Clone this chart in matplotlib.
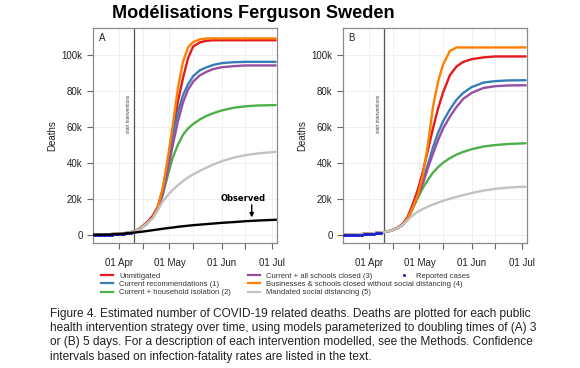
import matplotlib
matplotlib.use("Agg")
import matplotlib.pyplot as plt
from matplotlib.lines import Line2D
from matplotlib.ticker import FuncFormatter

plt.rcParams['font.family'] = ['Liberation Sans', 'DejaVu Sans']

# days counted from 01 Apr; deaths in thousands
days = [-15, -10, -5, 0, 5, 9, 13, 17, 20, 23, 26, 29, 32, 35, 38, 41, 44, 48, 52, 56, 61, 68, 75, 83, 93]
start_day = 9

pre_a = [0, 0.1, 0.3, 0.6, 1.0, 1.8]
a_unmitigated = pre_a + [4.0, 7.2, 10.5, 15.5, 25, 39, 56, 74, 87, 98, 104.5, 106.8, 107.7, 108, 108, 108, 108, 108, 108]
a_current = pre_a + [3.5, 6.5, 9.5, 14.5, 25, 40, 56, 68, 77.5, 83.5, 88, 91.3, 93, 94.3, 95.3, 95.8, 96, 96, 96]
a_household = pre_a + [3.5, 6.5, 9.5, 14, 22, 33, 43, 50, 55.5, 59, 61.5, 64, 66, 67.5, 69, 70.5, 71.3, 71.8, 72]
a_schools = pre_a + [3.5, 6.5, 9.5, 14, 23, 36, 50, 63, 73.5, 80.5, 85, 88.5, 90.5, 92, 93, 93.6, 94, 94, 94]
a_business = pre_a + [3.5, 6.5, 9.5, 14.8, 26, 42.6, 61, 81.5, 96, 104, 107, 108.5, 109, 109, 109, 109, 109, 109, 109]
a_distancing = pre_a + [3.5, 6.5, 9, 13.5, 18.5, 22, 25, 27.5, 29.8, 31.8, 33.5, 35.5, 37.3, 39, 40.8, 42.8, 44.2, 45.2, 46]
observed = [0, 0.05, 0.15, 0.4, 0.8, 1.2, 1.6, 2.1, 2.5, 2.9, 3.3, 3.7, 4.0, 4.4, 4.7, 5.0, 5.3, 5.6, 5.9, 6.2, 6.6, 7.0, 7.5, 7.9, 8.3]

pre_b = [0, 0.1, 0.3, 0.6, 1.0, 1.5]
b_unmitigated = pre_b + [2.3, 4.0, 6.0, 10, 17, 25, 35, 47, 59, 70, 79, 88.5, 93.5, 96, 97.5, 98.5, 99, 99, 99]
b_current = pre_b + [2.2, 3.7, 5.5, 9, 15, 22, 30, 39, 48.5, 56.5, 63, 69.5, 75, 78.8, 82, 84.5, 85.3, 85.7, 85.8]
b_household = pre_b + [2.2, 3.7, 5.5, 9, 14.5, 20.5, 26, 30.5, 34.5, 37.5, 40, 42.5, 44.5, 46, 47.5, 49, 49.8, 50.4, 50.8]
b_schools = pre_b + [2.2, 3.7, 5.5, 9, 15, 21.5, 28.5, 37, 45, 52.5, 59, 65.5, 71, 75.5, 78.8, 81.5, 82.5, 82.9, 83]
b_business = pre_b + [2.2, 3.7, 5.5, 9, 15, 22, 33, 50, 71, 85, 94.5, 102, 104, 104, 104, 104, 104, 104, 104]
b_distancing = pre_b + [2.2, 3.7, 5.5, 8, 10.8, 12.8, 14.3, 15.6, 16.8, 17.8, 18.8, 20, 21, 22, 23.2, 24.5, 25.5, 26.2, 26.7]

reported_days = list(range(-15, 8))
reported = [0.0, 0.0, 0.0, 0.0, 0.0, 0.01, 0.01, 0.02, 0.03, 0.05, 0.07, 0.1, 0.15, 0.2,
            0.25, 0.3, 0.4, 0.5, 0.6, 0.7, 0.8, 0.9, 1.0]

scenarios = ["Unmitigated", "Current recommendations (1)", "Current + household isolation (2)",
             "Current + all schools closed (3)", "Businesses & schools closed without social distancing (4)",
             "Mandated social distancing (5)"]
colors = ["#E41A1C", "#377EB8", "#4DAF4A", "#984EA3", "#FF7F00", "#C2C2C2"]

tick_days = [0, 14, 30, 44, 61, 75, 91]
tick_labels = ["01 Apr", "", "01 May", "", "01 Jun", "", "01 Jul"]
ytick_vals = [0, 20, 40, 60, 80, 100]

fig = plt.figure(figsize=(5.8, 3.68), dpi=100)
fig.patch.set_facecolor("white")

ax_a = fig.add_axes([93 / 580, 1 - 243 / 368, 184 / 580, 215 / 368])
ax_b = fig.add_axes([343 / 580, 1 - 243 / 368, 184 / 580, 215 / 368])

panels = [
    (ax_a, "A", [a_unmitigated, a_current, a_household, a_schools, a_business, a_distancing]),
    (ax_b, "B", [b_unmitigated, b_current, b_household, b_schools, b_business, b_distancing]),
]

for ax, letter, series in panels:
    ax.set_xlim(-15.4, 93.8)
    ax.set_ylim(-4.6, 114.8)
    ax.set_xticks(tick_days)
    ax.set_xticklabels(tick_labels)
    ax.set_yticks(ytick_vals)
    ax.yaxis.set_major_formatter(FuncFormatter(lambda v, p: "0" if v == 0 else f"{int(v)}k"))
    ax.grid(True, color="#eeeeee", lw=0.6)
    ax.set_axisbelow(True)
    for s in ax.spines.values():
        s.set_color("#8a8a8a")
        s.set_linewidth(0.9)
    ax.tick_params(axis="both", length=4, width=0.8, color="#666666", labelsize=7, labelcolor="#222222")
    ax.tick_params(axis="x", pad=7)
    ax.tick_params(axis="y", pad=3.5)
    ax.set_ylabel("Deaths", fontsize=7, color="#222222")
    ax.yaxis.set_label_coords(-0.196, 0.5)

    ax.axvline(start_day, color="#555555", lw=0.9, zorder=1)
    ax.text(start_day - 3.3, 67, "start interventions", rotation=90, fontsize=3.4,
            color="#444444", ha="center", va="center")
    ax.text(0.03, 0.975, letter, transform=ax.transAxes, fontsize=7, ha="left", va="top", color="#222222")

    for vals, c in zip(series, colors):
        ax.plot(days, vals, color=c, lw=1.7, solid_capstyle="round", zorder=3)
    ax.plot(reported_days, reported, "o", color="#1f1fcc", ms=2.2, mew=0, zorder=4)

ax_a.plot(days, observed, color="black", lw=1.7, zorder=5)
ax_a.annotate("", xy=(78.8, 9.6), xytext=(78.8, 16.6),
              arrowprops=dict(arrowstyle="-|>", color="black", lw=1.0, mutation_scale=6,
                              shrinkA=0, shrinkB=0))
ax_a.text(73.5, 20, "Observed", fontsize=6, fontweight="bold", family="DejaVu Sans",
          ha="center", va="center", color="black")

# legend in three blocks, as in the original figure
handles = [Line2D([], [], color=c, lw=1.6) for c in colors]
leg_kw = dict(frameon=False, fontsize=5.5, handlelength=1.6, handletextpad=0.8,
              labelspacing=0.12, borderaxespad=0, borderpad=0, labelcolor="#333333")
fig.legend(handles[:3], scenarios[:3], loc="upper left", bbox_to_anchor=(101 / 580, 1 - 272.5 / 368), **leg_kw)
fig.legend(handles[3:], scenarios[3:], loc="upper left", bbox_to_anchor=(248 / 580, 1 - 272.5 / 368), **leg_kw)
dot = Line2D([], [], ls="none", marker="o", color="#1f1fcc", ms=2.2, mew=0)
fig.legend([dot], ["Reported cases"], loc="upper left", bbox_to_anchor=(398 / 580, 1 - 272.5 / 368), **leg_kw)

caption = ("Figure 4. Estimated number of COVID-19 related deaths. Deaths are plotted for each public\n"
           "health intervention strategy over time, using models parameterized to doubling times of (A) 3\n"
           "or (B) 5 days. For a description of each intervention modelled, see the Methods. Confidence\n"
           "intervals based on infection-fatality rates are listed in the text.")
fig.text(50 / 580, 1 - 307.5 / 368, caption, fontsize=8.6, ha="left", va="top", linespacing=1.27, color="#222222")

fig.text(253 / 580, 1 - 13.5 / 368, "Modélisations Ferguson Sweden", fontsize=13.1, fontweight="bold",
         ha="center", va="center", color="black")

fig.savefig("out.png", dpi=100)
